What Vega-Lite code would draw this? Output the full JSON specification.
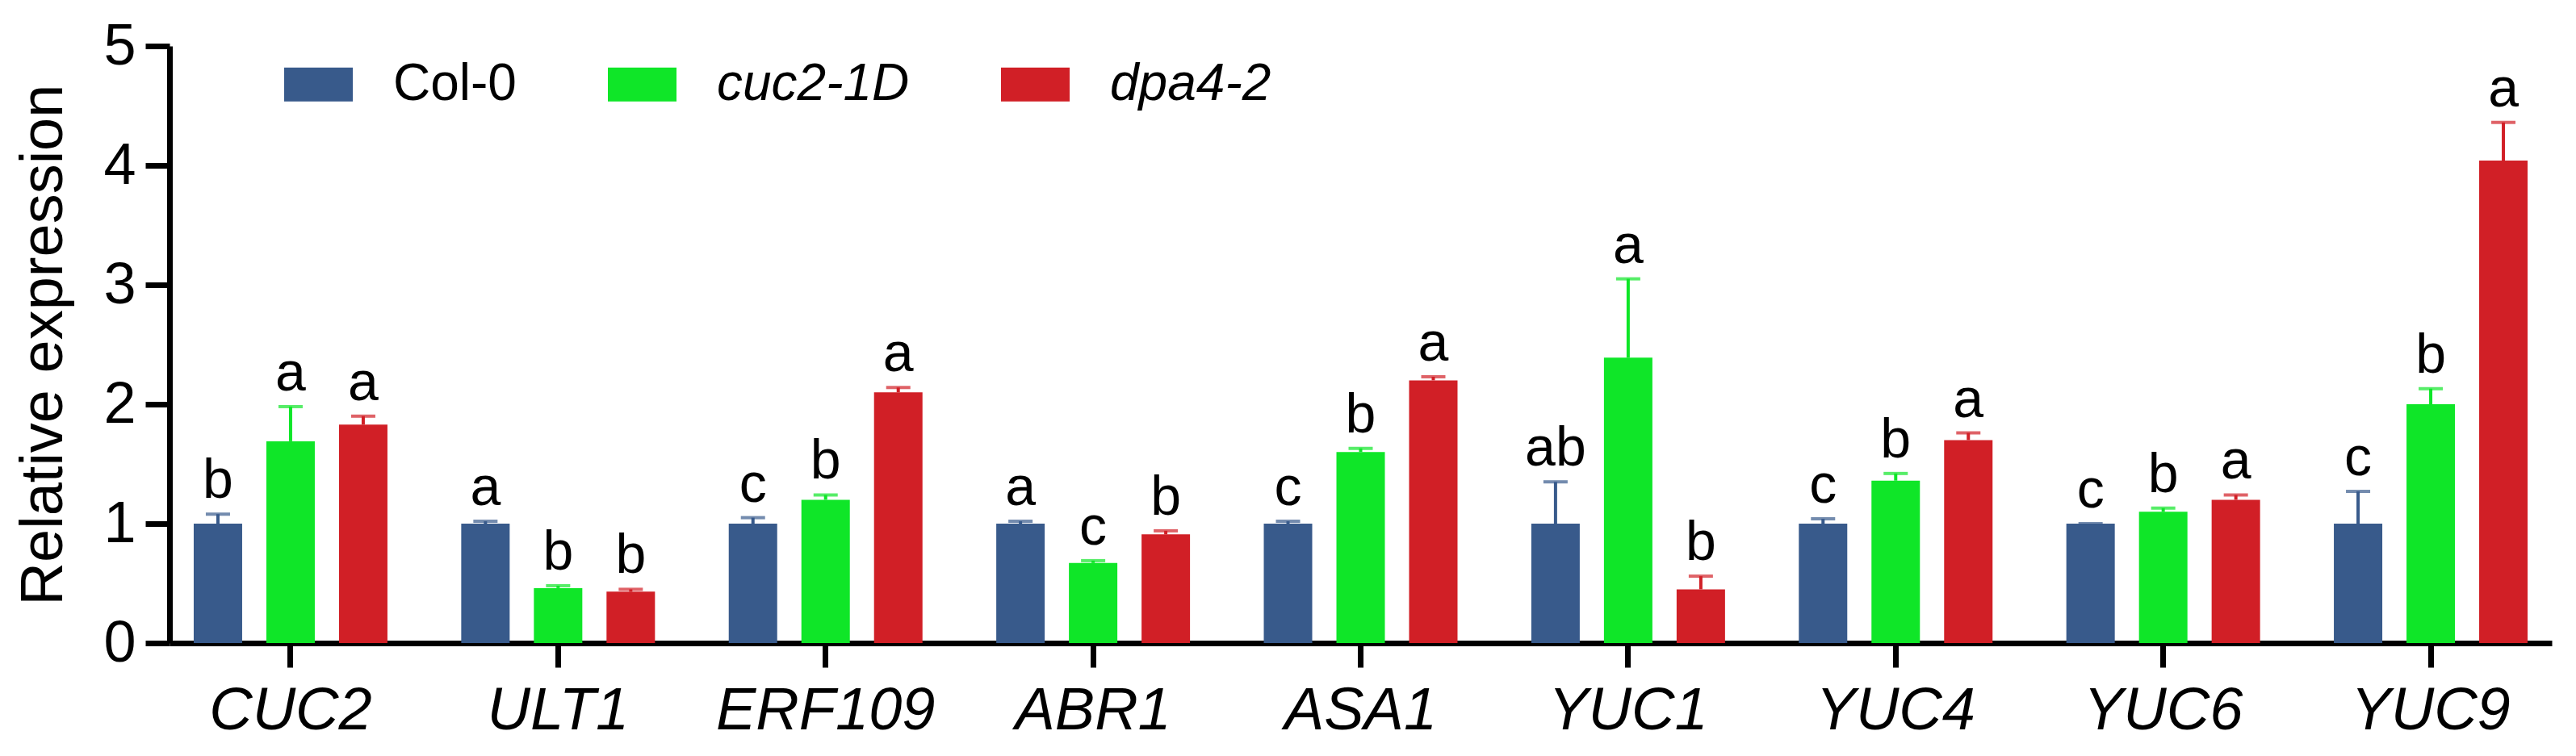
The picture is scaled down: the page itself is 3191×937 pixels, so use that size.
{
  "$schema": "https://vega.github.io/schema/vega-lite/v6.json",
  "width": 2951,
  "height": 740,
  "autosize": {"type": "none"},
  "padding": {"left": 210, "top": 57, "right": 30, "bottom": 140},
  "background": "white",
  "config": {
    "view": {"stroke": null},
    "font": "Liberation Sans",
    "axis": {
      "domainColor": "black",
      "domainWidth": 7,
      "tickColor": "black",
      "tickWidth": 7,
      "tickSize": 30,
      "grid": false,
      "labelColor": "black",
      "titleColor": "black",
      "labelFont": "Liberation Sans",
      "titleFont": "Liberation Sans",
      "labelLimit": 0,
      "zindex": 1
    },
    "legend": {"labelLimit": 0}
  },
  "data": {
    "values": [
      {"gene": "CUC2", "genotype": "Col-0", "mean": 1.0, "upper": 1.08, "sig": "b"},
      {"gene": "CUC2", "genotype": "cuc2-1D", "mean": 1.69, "upper": 1.98, "sig": "a"},
      {"gene": "CUC2", "genotype": "dpa4-2", "mean": 1.83, "upper": 1.9, "sig": "a"},
      {"gene": "ULT1", "genotype": "Col-0", "mean": 1.0, "upper": 1.02, "sig": "a"},
      {"gene": "ULT1", "genotype": "cuc2-1D", "mean": 0.46, "upper": 0.48, "sig": "b"},
      {"gene": "ULT1", "genotype": "dpa4-2", "mean": 0.43, "upper": 0.45, "sig": "b"},
      {"gene": "ERF109", "genotype": "Col-0", "mean": 1.0, "upper": 1.05, "sig": "c"},
      {"gene": "ERF109", "genotype": "cuc2-1D", "mean": 1.2, "upper": 1.24, "sig": "b"},
      {"gene": "ERF109", "genotype": "dpa4-2", "mean": 2.1, "upper": 2.14, "sig": "a"},
      {"gene": "ABR1", "genotype": "Col-0", "mean": 1.0, "upper": 1.02, "sig": "a"},
      {"gene": "ABR1", "genotype": "cuc2-1D", "mean": 0.67, "upper": 0.69, "sig": "c"},
      {"gene": "ABR1", "genotype": "dpa4-2", "mean": 0.91, "upper": 0.94, "sig": "b"},
      {"gene": "ASA1", "genotype": "Col-0", "mean": 1.0, "upper": 1.02, "sig": "c"},
      {"gene": "ASA1", "genotype": "cuc2-1D", "mean": 1.6, "upper": 1.63, "sig": "b"},
      {"gene": "ASA1", "genotype": "dpa4-2", "mean": 2.2, "upper": 2.23, "sig": "a"},
      {"gene": "YUC1", "genotype": "Col-0", "mean": 1.0, "upper": 1.35, "sig": "ab"},
      {"gene": "YUC1", "genotype": "cuc2-1D", "mean": 2.39, "upper": 3.05, "sig": "a"},
      {"gene": "YUC1", "genotype": "dpa4-2", "mean": 0.45, "upper": 0.56, "sig": "b"},
      {"gene": "YUC4", "genotype": "Col-0", "mean": 1.0, "upper": 1.04, "sig": "c"},
      {"gene": "YUC4", "genotype": "cuc2-1D", "mean": 1.36, "upper": 1.42, "sig": "b"},
      {"gene": "YUC4", "genotype": "dpa4-2", "mean": 1.7, "upper": 1.76, "sig": "a"},
      {"gene": "YUC6", "genotype": "Col-0", "mean": 1.0, "upper": 1.0, "sig": "c"},
      {"gene": "YUC6", "genotype": "cuc2-1D", "mean": 1.1, "upper": 1.13, "sig": "b"},
      {"gene": "YUC6", "genotype": "dpa4-2", "mean": 1.2, "upper": 1.24, "sig": "a"},
      {"gene": "YUC9", "genotype": "Col-0", "mean": 1.0, "upper": 1.27, "sig": "c"},
      {"gene": "YUC9", "genotype": "cuc2-1D", "mean": 2.0, "upper": 2.13, "sig": "b"},
      {"gene": "YUC9", "genotype": "dpa4-2", "mean": 4.04, "upper": 4.36, "sig": "a"}
    ]
  },
  "encoding": {
    "x": {
      "field": "gene",
      "type": "nominal",
      "sort": null,
      "scale": {"paddingInner": 0.2758, "paddingOuter": 0.0904},
      "axis": {
        "title": null,
        "labelAngle": 0,
        "labelFontSize": 74,
        "labelFontStyle": "italic",
        "labelPadding": 18
      }
    },
    "xOffset": {
      "field": "genotype",
      "type": "nominal",
      "sort": ["Col-0", "cuc2-1D", "dpa4-2"],
      "scale": {"paddingInner": 0.3333, "paddingOuter": 0}
    }
  },
  "layer": [
    {
      "mark": {"type": "bar"},
      "encoding": {
        "y": {
          "field": "mean",
          "type": "quantitative",
          "scale": {"domain": [0, 5], "nice": false},
          "axis": {
            "title": "Relative expression",
            "values": [0, 1, 2, 3, 4, 5],
            "format": "d",
            "labelFontSize": 72,
            "labelPadding": 12,
            "titleFontSize": 74,
            "titleFontWeight": "normal",
            "titlePadding": 35
          }
        },
        "color": {
          "field": "genotype",
          "type": "nominal",
          "scale": {
            "domain": ["Col-0", "cuc2-1D", "dpa4-2"],
            "range": ["#385A8B", "#0FE628", "#D11F26"]
          },
          "legend": {
            "title": null,
            "orient": "none",
            "direction": "horizontal",
            "legendX": 142,
            "legendY": 5,
            "padding": 0,
            "symbolType": "M-1,-0.494H1V0.494H-1Z",
            "symbolSize": 7225,
            "symbolStrokeWidth": 0,
            "symbolOpacity": 1,
            "labelFontSize": 64,
            "labelFont": "Liberation Sans",
            "labelFontStyle": {"expr": "datum.value == 'Col-0' ? 'normal' : 'italic'"},
            "labelColor": "black",
            "labelOffset": 50,
            "labelLimit": 0,
            "columnPadding": 113
          }
        }
      }
    },
    {
      "mark": {"type": "rule", "strokeWidth": 4},
      "encoding": {
        "y": {"field": "mean", "type": "quantitative"},
        "y2": {"field": "upper"},
        "color": {"field": "genotype", "type": "nominal", "legend": null}
      }
    },
    {
      "mark": {"type": "tick", "size": 30, "thickness": 4, "orient": "horizontal"},
      "encoding": {
        "y": {"field": "upper", "type": "quantitative"},
        "color": {"field": "genotype", "type": "nominal", "legend": null}
      }
    },
    {
      "mark": {
        "type": "text",
        "fontSize": 68,
        "font": "Liberation Sans",
        "color": "black",
        "baseline": "alphabetic",
        "dy": -20
      },
      "encoding": {
        "y": {"field": "upper", "type": "quantitative"},
        "text": {"field": "sig"}
      }
    }
  ]
}
